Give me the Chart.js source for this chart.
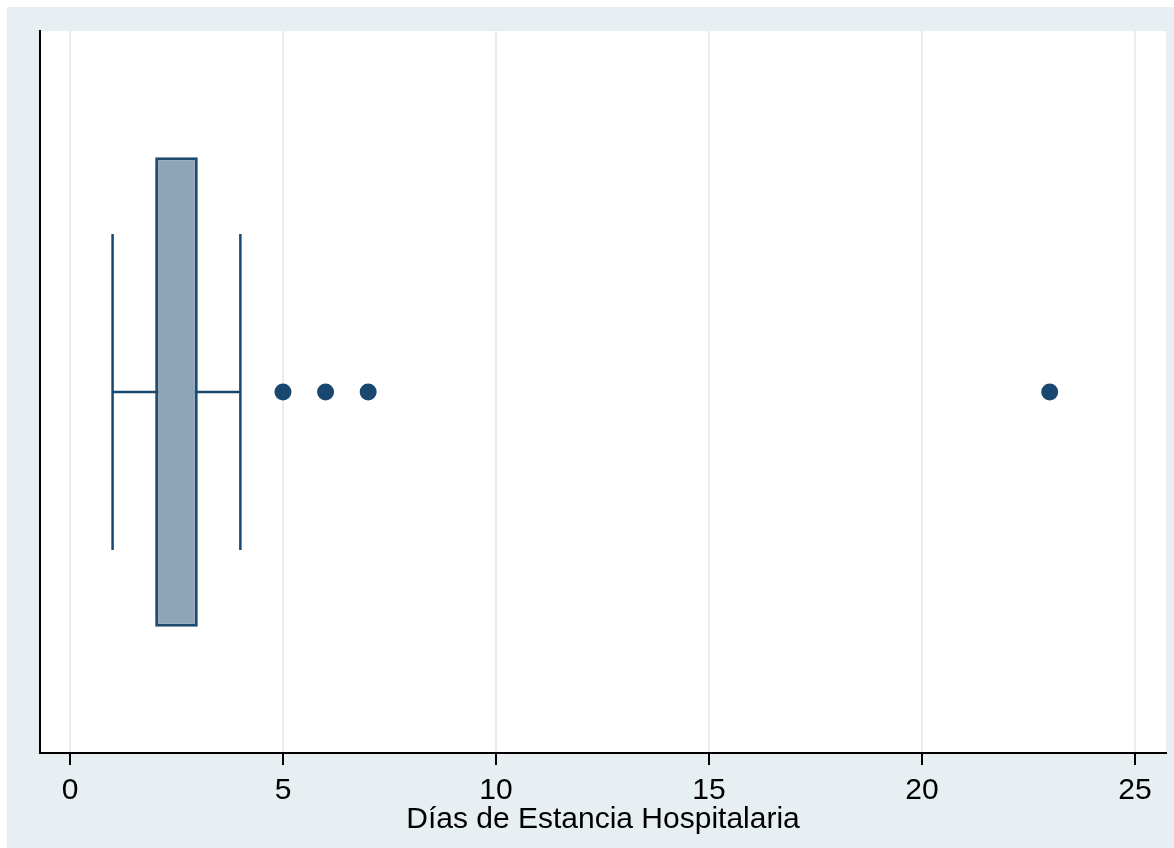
<!DOCTYPE html>
<html>
<head>
<meta charset="utf-8">
<script src="https://cdn.jsdelivr.net/npm/chart.js@4"></script>
<style>
  html, body { margin: 0; padding: 0; background: #fff; }
  #wrap {
    position: absolute; left: 7px; top: 7px;
    width: 1167px; height: 841px;
    background: #e8eff2;
  }
</style>
</head>
<body>
<div id="wrap"><canvas id="boxChart"></canvas></div>
<script>
// Box plot values (days)
const categoryLabel = ['Estancia'];
const boxRange = [[2, 3]];        // q1 .. q3
const whiskerRange = [[1, 4]];    // lower adjacent .. upper adjacent
const whiskerEnds = [1, 4];
const outliers = [5, 6, 7, 23];
const tickValues = [0, 5, 10, 15, 20, 25];
const axisTitle = 'Días de Estancia Hospitalaria';

const navy = '#1a476f';
const font = { family: '"Liberation Sans", Arial, sans-serif', size: 30 };

// white plot region like Stata
const plotBg = {
    id: 'plotBg',
    beforeDraw(chart) {
        const a = chart.chartArea;
        const ctx = chart.ctx;
        ctx.save();
        ctx.fillStyle = '#ffffff';
        ctx.fillRect(a.left, a.top, a.right - a.left, a.bottom - a.top);
        ctx.restore();
    }
};

new Chart(document.getElementById('boxChart'), {
    type: 'bar',
    data: {
        labels: categoryLabel,
        datasets: [
            {
                label: 'box',
                data: boxRange,
                backgroundColor: '#8ea4b8',
                borderColor: '#1f4a70',
                borderWidth: 3,
                borderSkipped: false,
                barPercentage: 0.65,
                categoryPercentage: 1,
                grouped: false
            },
            {
                label: 'whisker',
                data: whiskerRange,
                backgroundColor: navy,
                borderWidth: 0,
                barThickness: 2,
                grouped: false
            },
            {
                type: 'scatter',
                label: 'caps',
                data: whiskerEnds.map(v => ({ x: v, y: categoryLabel[0] })),
                pointStyle: 'line',
                rotation: 90,
                pointRadius: 158,
                borderColor: navy,
                borderWidth: 2.5
            },
            {
                type: 'scatter',
                label: 'outliers',
                data: outliers.map(v => ({ x: v, y: categoryLabel[0] })),
                pointStyle: 'circle',
                pointRadius: 8.5,
                backgroundColor: navy,
                borderColor: navy,
                borderWidth: 0
            }
        ]
    },
    options: {
        indexAxis: 'y',
        responsive: true,
        maintainAspectRatio: false,
        animation: false,
        layout: {
            autoPadding: false,
            padding: { left: 33, right: 8, top: 24, bottom: 10 }
        },
        plugins: {
            legend: { display: false },
            tooltip: { enabled: false }
        },
        scales: {
            x: {
                type: 'linear',
                min: -0.704,
                max: 25.73,
                afterBuildTicks: (scale) => {
                    scale.ticks = tickValues.map(v => ({ value: v }));
                },
                grid: {
                    color: '#e6eef1',
                    lineWidth: 2,
                    drawTicks: true,
                    tickLength: 12,
                    tickColor: '#000000',
                    tickWidth: 2
                },
                border: { display: true, color: '#000000', width: 2 },
                ticks: { color: '#000000', font: font, padding: 8, maxRotation: 0 },
                title: {
                    display: true,
                    text: axisTitle,
                    color: '#000000',
                    font: font,
                    padding: { top: -15, bottom: 0 }
                }
            },
            y: {
                type: 'category',
                grid: { display: false, drawTicks: false },
                border: { display: true, color: '#000000', width: 2 },
                ticks: { display: false }
            }
        }
    },
    plugins: [plotBg]
});
</script>
</body>
</html>
